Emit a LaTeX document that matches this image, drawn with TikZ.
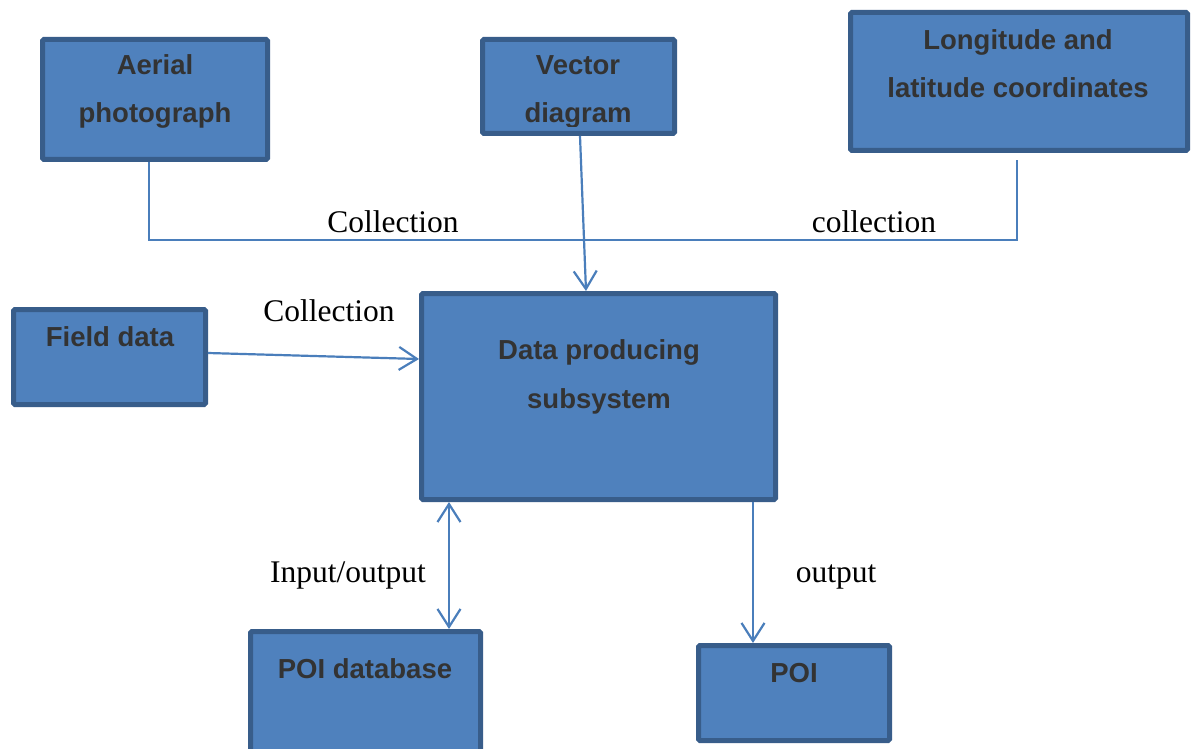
\documentclass[tikz,border=0pt]{standalone}
\usepackage{fontspec}
\setmainfont{Liberation Serif}
\newfontfamily\boxfont{Liberation Sans}
\usetikzlibrary{arrows.meta}
\definecolor{boxfill}{HTML}{4F81BD}
\definecolor{boxline}{HTML}{385D8A}
\definecolor{conncol}{HTML}{4A7EBB}
\definecolor{txtcol}{HTML}{333333}
\tikzset{
  box/.style={rectangle, fill=boxfill, draw=boxline, line width=5pt, rounded corners=1.5pt, inner sep=0pt},
  boxtext/.style={anchor=base, inner sep=0pt, text=txtcol, font=\boxfont\bfseries\fontsize{27.5}{30}\selectfont},
  lbl/.style={anchor=base, inner sep=0pt, text=black, font=\fontsize{31.5}{34}\selectfont},
  conn/.style={draw=conncol, line width=2.2pt},
  tipv/.tip={Straight Barb[length=18pt,width=23pt,line width=2.2pt]},
  arr/.style={conn, -tipv},
  darr/.style={conn, tipv-tipv}
}
\begin{document}
\begin{tikzpicture}[x=1pt,y=-1pt]
\useasboundingbox (0,0) rectangle (1195,749);
\clip (0,0) rectangle (1195,749);
\fill[white] (0,0) rectangle (1195,749);

% boxes
\node[box, minimum width=225pt, minimum height=120pt] (aer) at (155,99.5) {};
\node[box, minimum width=192pt, minimum height=94pt] (vec) at (578.5,86.5) {};
\node[box, minimum width=337pt, minimum height=138pt] (lon) at (1019,81.5) {};
\node[box, minimum width=192pt, minimum height=95pt] (fld) at (109.5,357) {};
\node[box, minimum width=354pt, minimum height=206pt] (dps) at (598.5,396.5) {};
\node[box, minimum width=230pt, minimum height=127pt] (poidb) at (365.5,695) {};
\node[box, minimum width=191pt, minimum height=95pt] (poi) at (794,693) {};

% box texts
\node[boxtext] (t1) at (155,75) {Aerial};
\node[boxtext] (t2) at (155,123) {photograph};
\node[boxtext] (t3) at (578,75) {Vector};
\begin{scope}
\clip (vec.north west) rectangle ([yshift=9pt]vec.south east);
\node[boxtext] (t4) at (578,123) {diagram};
\end{scope}
\node[boxtext] (t5) at (1018,50) {Longitude and};
\node[boxtext] (t6) at (1018,98) {latitude coordinates};
\node[boxtext] (t7) at (110,346) {Field data};
\node[boxtext] (t8) at (599,359) {Data producing};
\node[boxtext] (t9) at (599,408) {subsystem};
\node[boxtext] (t10) at (365,678) {POI database};
\node[boxtext] (t11) at (794,682) {POI};

% connectors
\coordinate (lonend) at ([xshift=-2pt,yshift=-7pt]lon.south);
\draw[conn] ([xshift=-6pt]aer.south) -- ++(0,78) -| (lonend);
\draw[arr] ([xshift=1.5pt]vec.south) -- ([xshift=-12.5pt]dps.north);
\draw[arr] ([yshift=4pt]fld.east) -- ([yshift=37.5pt]dps.west);
\draw[darr] ([xshift=-149.5pt]dps.south) -- ([xshift=83.5pt]poidb.north);
\draw[arr] ([xshift=154.5pt]dps.south) -- ([xshift=-41pt]poi.north);

% labels
\node[lbl] (l1) at (393,233) {Collection};
\node[lbl] (l2) at (874,233) {collection};
\node[lbl] (l3) at (329,321) {Collection};
\node[lbl] (l4) at (348,582) {Input/output};
\node[lbl] (l5) at (836,582) {output};
\end{tikzpicture}
\end{document}
